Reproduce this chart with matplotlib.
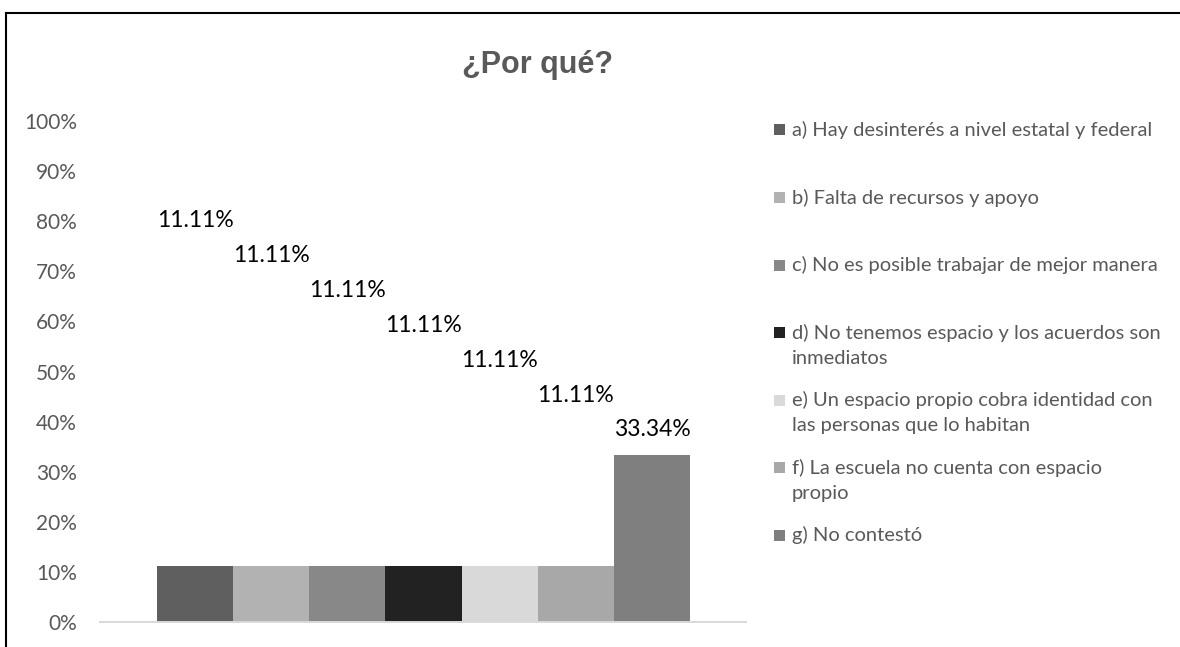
import matplotlib
matplotlib.use("Agg")
import matplotlib.pyplot as plt
from matplotlib.patches import Rectangle
from matplotlib.lines import Line2D

plt.rcParams['font.family'] = ['Lato', 'DejaVu Sans']

categories = [
    "a) Hay desinterés a nivel estatal y federal",
    "b) Falta de recursos y apoyo",
    "c) No es posible trabajar de mejor manera",
    "d) No tenemos espacio y los acuerdos son\ninmediatos",
    "e) Un espacio propio cobra identidad con\nlas personas que lo habitan",
    "f) La escuela no cuenta con espacio\npropio",
    "g) No contestó",
]
values = [11.11, 11.11, 11.11, 11.11, 11.11, 11.11, 33.34]
value_labels = ["11.11%", "11.11%", "11.11%", "11.11%", "11.11%", "11.11%", "33.34%"]
# Excel placed the data labels at staggered heights (in % of axis)
label_heights = [80.2, 73.2, 66.2, 59.2, 52.2, 45.2, 38.4]
colors = ["#5f5f5f", "#b2b2b2", "#888888", "#222222", "#d9d9d9", "#a8a8a8", "#7f7f7f"]
yticks = list(range(0, 101, 10))
ytick_labels = [f"{t}%" for t in yticks]
title = "¿Por qué?"

W, H = 1180, 647
fig = plt.figure(figsize=(W / 100, H / 100), dpi=100)
ax = fig.add_axes([100 / W, 1 - 622 / H, 646 / W, 501 / H])

xs = list(range(len(values)))
ax.bar(xs, values, width=1.0, color=colors, linewidth=0)
for x, h, lab in zip(xs, label_heights, value_labels):
    ax.text(x, h, lab, ha="center", va="center", fontsize=16.5, color="black")

ax.set_xlim(-1.249, 7.236)
ax.set_ylim(0, 100)
ax.set_yticks(yticks)
ax.set_yticklabels(ytick_labels, fontsize=15, color="#595959")
ax.set_xticks([])
ax.tick_params(axis="y", length=0, pad=16.5)
for s in ["top", "right", "left"]:
    ax.spines[s].set_visible(False)
ax.spines["bottom"].set_color("#d9d9d9")
ax.spines["bottom"].set_linewidth(1.4)

fig.text(537.5 / W, 1 - 65 / H, title, ha="center", va="center", fontsize=22,
         fontweight="bold", color="#595959", family=["Liberation Sans", "DejaVu Sans"])

# legend (Excel style: entries start at equal steps, square beside first line)
leg_top, leg_step, line_step = 130, 67.5, 26
for i, (cat, c) in enumerate(zip(categories, colors)):
    yc = leg_top + i * leg_step
    fig.add_artist(Rectangle((774 / W, 1 - (yc + 5.5) / H), 11 / W, 11 / H,
                             facecolor=c, edgecolor="none", transform=fig.transFigure))
    for k, line in enumerate(cat.split("\n")):
        fig.text(792 / W, 1 - (yc + k * line_step) / H, line, ha="left", va="center",
                 fontsize=14.5, color="#595959")

# outer chart border (top and left visible)
fig.add_artist(Line2D([6 / W, 1.0], [1 - 13 / H, 1 - 13 / H], color="black", lw=1.5,
                      transform=fig.transFigure))
fig.add_artist(Line2D([6 / W, 6 / W], [0.0, 1 - 13 / H], color="black", lw=1.5,
                      transform=fig.transFigure))

fig.savefig("out.png", dpi=100)
